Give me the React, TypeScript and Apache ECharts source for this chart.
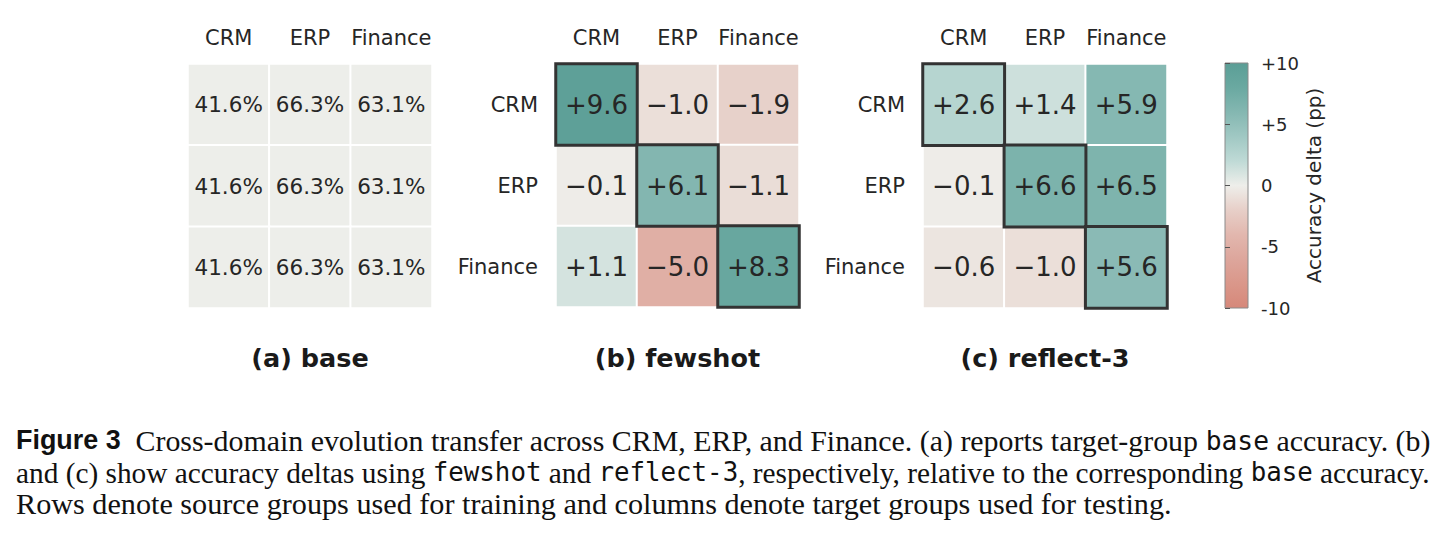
import React, { useEffect, useRef } from 'react';
import * as echarts from 'echarts';

// ---------------- data ----------------
const CATEGORIES = ['CRM', 'ERP', 'Finance'];

const BASE_ACC = [
  [41.6, 66.3, 63.1],
  [41.6, 66.3, 63.1],
  [41.6, 66.3, 63.1],
];

const FEWSHOT_DELTA = [
  [9.6, -1.0, -1.9],
  [-0.1, 6.1, -1.1],
  [1.1, -5.0, 8.3],
];

const REFLECT_DELTA = [
  [2.6, 1.4, 5.9],
  [-0.1, 6.6, 6.5],
  [-0.6, -1.0, 5.6],
];

const PANEL_TITLES = ['(a) base', '(b) fewshot', '(c) reflect-3'];

const COLORBAR_MIN = -10;
const COLORBAR_MAX = 10;
const COLORBAR_STEP = 5;
const COLORBAR_TITLE = 'Accuracy delta (pp)';

// diverging colours, evenly spaced from min (-10) to max (+10)
const COLOR_SCALE = [
  '#d6887a', '#da978a', '#dda69c', '#e2b7ae', '#e7cfc8',
  '#eeeeea',
  '#bfdad6', '#a0c8c3', '#84b7b1', '#6aa9a1', '#5b9e96',
];
const BASE_CELL_COLOR = '#edeeea';

type Seg = { t: string; s?: 'b' | 'm' };
const CAPTION_LINES: Seg[][] = [
  [
    { t: 'Figure 3', s: 'b' },
    { t: '  Cross-domain evolution transfer across CRM, ERP, and Finance. (a) reports target-group ' },
    { t: 'base', s: 'm' },
    { t: ' accuracy. (b)' },
  ],
  [
    { t: 'and (c) show accuracy deltas using ' },
    { t: 'fewshot', s: 'm' },
    { t: ' and ' },
    { t: 'reflect-3', s: 'm' },
    { t: ', respectively, relative to the corresponding ' },
    { t: 'base', s: 'm' },
    { t: ' accuracy.' },
  ],
  [{ t: 'Rows denote source groups used for training and columns denote target groups used for testing.' }],
];

// ---------------- layout ----------------
const SANS = '"DejaVu Sans", sans-serif';
const SERIF = '"Liberation Serif", "Times New Roman", serif';
const BOLD_SANS = '"Liberation Sans Narrow", "Liberation Sans", sans-serif';
const MONO = '"DejaVu Sans Mono", monospace';
const TEXT_COLOR = '#262626';

const GRIDS = [
  { left: 188, top: 64, width: 244, height: 244 },
  { left: 556, top: 64, width: 243, height: 243 },
  { left: 923, top: 64, width: 244, height: 244 },
];
const CBAR = { left: 1225, top: 63, width: 23, height: 245 };
const TITLE_Y = 358;
const CAPTION_X = 16;
const CAPTION_FULL_WIDTH = 1414;
const CAPTION_LAST_WIDTH = 1156;
const CAPTION_Y = [440, 472, 504];

function fmtDelta(v: number) {
  if (v > 0) return '+' + v.toFixed(1);
  if (v < 0) return '\u2212' + Math.abs(v).toFixed(1);
  return '0.0';
}

function heatData(m: number[][], diagBorder: boolean) {
  const normal: any[] = [];
  const diag: any[] = [];
  m.forEach((row, i) =>
    row.forEach((v, j) => {
      if (diagBorder && i === j) {
        diag.push({ value: [j, i, v], itemStyle: { borderColor: '#333333', borderWidth: 3 } });
      } else {
        normal.push({ value: [j, i, v] });
      }
    })
  );
  return normal.concat(diag);
}

function measure(text: string, font: string) {
  const c = document.createElement('canvas').getContext('2d')!;
  c.font = font;
  return c.measureText(text).width;
}

function buildCaption() {
  const fontFor = (s: Seg['s'], size: number) => {
    if (s === 'b') return `bold ${size * 0.9}px ${BOLD_SANS}`;
    if (s === 'm') return `${size * 0.88}px ${MONO}`;
    return `${size}px ${SERIF}`;
  };
  const lineWidth = (line: Seg[], size: number) =>
    line.reduce((acc, seg) => acc + measure(seg.t, fontFor(seg.s, size)), 0);
  const last = CAPTION_LINES[CAPTION_LINES.length - 1];
  const size = (CAPTION_LAST_WIDTH / lineWidth(last, 100)) * 100;
  return CAPTION_LINES.map((line, idx) => {
    const w = lineWidth(line, size);
    const scaleX = idx < CAPTION_LINES.length - 1 ? CAPTION_FULL_WIDTH / w : 1;
    const text = line.map((seg) => (seg.s ? `{${seg.s}|${seg.t}}` : seg.t)).join('');
    return {
      type: 'text',
      x: CAPTION_X,
      y: CAPTION_Y[idx],
      scaleX,
      silent: true,
      style: {
        text,
        fontFamily: SERIF,
        fontSize: size,
        fill: '#111111',
        align: 'left',
        verticalAlign: 'middle',
        textAlign: 'left',
        textVerticalAlign: 'middle',
        rich: {
          b: { fontFamily: BOLD_SANS, fontWeight: 'bold', fontSize: size * 0.9, fill: '#111111' },
          m: { fontFamily: MONO, fontSize: size * 0.88, fill: '#111111' },
        },
      },
    };
  });
}

function buildOption() {
  const xAxis: any[] = GRIDS.map((_, i) => ({
    type: 'category',
    gridIndex: i,
    data: CATEGORIES,
    position: 'top',
    axisLine: { show: false },
    axisTick: { show: false },
    splitLine: { show: false },
    axisLabel: { interval: 0, fontSize: 21, color: TEXT_COLOR, fontFamily: SANS, margin: 16 },
  }));
  xAxis.push({ type: 'value', gridIndex: 3, show: false, min: 0, max: 1 });

  const yAxis: any[] = GRIDS.map((_, i) => ({
    type: 'category',
    gridIndex: i,
    data: CATEGORIES,
    inverse: true,
    axisLine: { show: false },
    axisTick: { show: false },
    splitLine: { show: false },
    axisLabel: { show: i > 0, interval: 0, fontSize: 21, color: TEXT_COLOR, fontFamily: SANS, margin: 18 },
  }));
  yAxis.push({
    type: 'value',
    gridIndex: 3,
    min: COLORBAR_MIN,
    max: COLORBAR_MAX,
    interval: COLORBAR_STEP,
    position: 'right',
    axisLine: { show: false },
    axisTick: { show: true, length: 5, lineStyle: { color: '#555555', width: 1 } },
    splitLine: { show: false },
    axisLabel: {
      fontSize: 18,
      color: TEXT_COLOR,
      fontFamily: SANS,
      margin: 13,
      formatter: (v: number) => (v > 0 ? '+' + v : String(v)),
    },
    name: COLORBAR_TITLE,
    nameLocation: 'middle',
    nameRotate: 90,
    nameGap: 56,
    nameTextStyle: { fontSize: 20, color: TEXT_COLOR, fontFamily: SANS },
  });

  const labelBase = { show: true, color: TEXT_COLOR, fontFamily: SANS };

  const series: any[] = [
    {
      type: 'heatmap',
      xAxisIndex: 0,
      yAxisIndex: 0,
      data: heatData(BASE_ACC, false),
      itemStyle: { borderColor: '#ffffff', borderWidth: 2 },
      label: { ...labelBase, fontSize: 21.5, formatter: (p: any) => p.value[2].toFixed(1) + '%' },
      emphasis: { disabled: true },
    },
    {
      type: 'heatmap',
      xAxisIndex: 1,
      yAxisIndex: 1,
      data: heatData(FEWSHOT_DELTA, true),
      itemStyle: { borderColor: '#ffffff', borderWidth: 2 },
      label: { ...labelBase, fontSize: 26, formatter: (p: any) => fmtDelta(p.value[2]) },
      emphasis: { disabled: true },
    },
    {
      type: 'heatmap',
      xAxisIndex: 2,
      yAxisIndex: 2,
      data: heatData(REFLECT_DELTA, true),
      itemStyle: { borderColor: '#ffffff', borderWidth: 2 },
      label: { ...labelBase, fontSize: 26, formatter: (p: any) => fmtDelta(p.value[2]) },
      emphasis: { disabled: true },
    },
  ];

  const n = COLOR_SCALE.length;
  const gradientStops = COLOR_SCALE.map((c, i) => ({ offset: 1 - i / (n - 1), color: c })).reverse();

  const graphics: any[] = [
    {
      type: 'rect',
      silent: true,
      z: 0,
      shape: { x: CBAR.left, y: CBAR.top, width: CBAR.width, height: CBAR.height },
      style: {
        fill: new echarts.graphic.LinearGradient(0, 0, 0, 1, gradientStops),
        stroke: '#8a8a8a',
        lineWidth: 1,
      },
    },
    ...PANEL_TITLES.map((t, i) => ({
      type: 'text',
      silent: true,
      x: GRIDS[i].left + GRIDS[i].width / 2,
      y: TITLE_Y,
      style: {
        text: t,
        fontFamily: SANS,
        fontWeight: 'bold',
        fontSize: 25.5,
        fill: '#1a1a1a',
        align: 'center',
        verticalAlign: 'middle',
        textAlign: 'center',
        textVerticalAlign: 'middle',
      },
    })),
    ...buildCaption(),
  ];

  return {
    animation: false,
    backgroundColor: '#ffffff',
    grid: [...GRIDS, CBAR].map((g) => ({ ...g, containLabel: false })),
    xAxis,
    yAxis,
    visualMap: [
      {
        type: 'continuous',
        show: false,
        min: COLORBAR_MIN,
        max: COLORBAR_MAX,
        dimension: 2,
        seriesIndex: [1, 2],
        inRange: { color: COLOR_SCALE },
      },
      {
        type: 'continuous',
        show: false,
        min: 0,
        max: 100,
        dimension: 2,
        seriesIndex: [0],
        inRange: { color: [BASE_CELL_COLOR, BASE_CELL_COLOR] },
      },
    ],
    series,
    graphic: graphics,
  };
}

export default function App() {
  const ref = useRef<HTMLDivElement>(null);
  useEffect(() => {
    const chart = echarts.init(ref.current!, null, { renderer: 'svg' });
    chart.setOption(buildOption() as any);
    return () => chart.dispose();
  }, []);
  return (
    <div
      ref={ref}
      style={{ position: 'absolute', left: 0, top: 0, width: 1447, height: 535, background: '#ffffff' }}
    />
  );
}
